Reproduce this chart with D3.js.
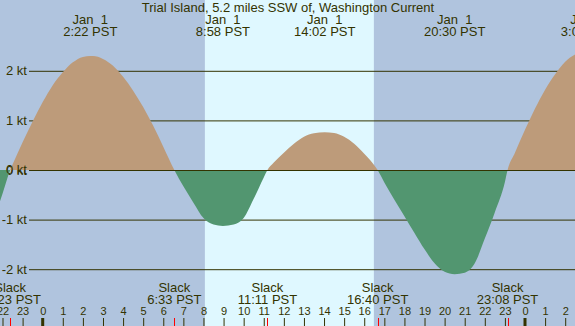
<!DOCTYPE html>
<html>
<head>
<meta charset="utf-8">
<script src="https://cdn.jsdelivr.net/npm/d3@7"></script>
<style>
body { margin: 0; }
text { font-family: "Liberation Sans", Arial, sans-serif; fill: #333300; }
</style>
</head>
<body>
<div id="chart"></div>
<script>
//data
const title = "Trial Island, 5.2 miles SSW of, Washington Current";

// current speed, hours of Jan 1 (PST), knots (+ flood, - ebb)
const hours = [-2.5, -2, -1.617, -1.5, -1, -0.5, 0, 0.5, 1, 1.5, 2, 2.37, 2.5, 3, 3.5, 4, 4.5, 5, 5.5, 6, 6.55,
    7, 7.5, 8, 8.5, 8.967, 9.5, 10, 10.5, 11, 11.183, 11.5, 12, 12.5, 13, 13.5, 14.033, 14.5, 15, 15.5, 16, 16.667,
    17, 17.5, 18, 18.5, 19, 19.5, 20, 20.5, 21, 21.5, 22, 22.5, 23, 23.133, 23.5, 24, 24.5, 25, 25.5, 26, 26.5, 27.133];
const knots = [-1.05, -0.48, 0, 0.11, 0.56, 0.98, 1.37, 1.71, 1.97, 2.17, 2.28, 2.30, 2.30, 2.24, 2.10, 1.88, 1.60, 1.27, 0.89, 0.47, 0,
    -0.33, -0.66, -0.97, -1.10, -1.13, -1.10, -0.97, -0.58, -0.15, 0, 0.15, 0.35, 0.53, 0.67, 0.74, 0.76, 0.745, 0.67, 0.53, 0.33, 0,
    -0.25, -0.60, -0.93, -1.27, -1.60, -1.88, -2.05, -2.10, -2.07, -1.88, -1.38, -0.85, -0.24, 0, 0.35, 0.81, 1.24, 1.62, 1.93, 2.18, 2.33, 2.40];

// max flood / max ebb
const peakHours = [2.367, 8.967, 14.033, 20.5, 27.133];
const peakDates = ["Jan  1", "Jan  1", "Jan  1", "Jan  1", "Jan  2"];
const peakTimes = ["2:22 PST", "8:58 PST", "14:02 PST", "20:30 PST", "3:08 PST"];

// slack water
const slackHours = [-1.617, 6.55, 11.183, 16.667, 23.133];
const slackTimes = ["22:23 PST", "6:33 PST", "11:11 PST", "16:40 PST", "23:08 PST"];

const sunrise = 8.07, sunset = 16.48;
const knotTicks = [-2, -1, 0, 1, 2];
const hourTicks = d3.range(-2, 27);
const midnights = [0, 24];

//setup
const width = 575, height = 326;
const nightColor = "#b0c4de", dayColor = "#dff8ff";
const floodColor = "#bd9b7a", ebbColor = "#529670", ink = "#333300";

const svg = d3.select("#chart").append("svg")
    .attr("width", width)
    .attr("height", height);

const x = d3.scaleLinear().domain([0, 24]).range([42.7, 525]);
const y = d3.scaleLinear().domain([0, 2]).range([170, 70.8]);

// night / day background
svg.append("rect")
    .attr("width", width).attr("height", height)
    .attr("fill", nightColor);
svg.append("rect")
    .attr("x", x(sunrise)).attr("width", x(sunset) - x(sunrise))
    .attr("height", height)
    .attr("fill", dayColor);

// knot axis + grid (under the fill)
const yAxis = d3.axisLeft(y)
    .tickValues(knotTicks)
    .tickSizeInner(-(width - 29))
    .tickSizeOuter(0)
    .tickPadding(2)
    .tickFormat(d => d + " kt");
svg.append("g")
    .attr("transform", "translate(29,0)")
    .attr("color", ink)
    .call(yAxis)
    .call(g => g.select(".domain").remove())
    .call(g => g.selectAll("text").attr("font-size", 13).attr("font-family", null));

// current fill, flood above and ebb below the zero line
const pts = hours.map((h, i) => [h, knots[i]]);
const area = d3.area()
    .x(d => x(d[0]))
    .y0(y(0))
    .y1(d => y(d[1]))
    .curve(d3.curveMonotoneX);

const defs = svg.append("defs");
defs.append("clipPath").attr("id", "above")
    .append("rect").attr("width", width).attr("height", y(0));
defs.append("clipPath").attr("id", "below")
    .append("rect").attr("y", y(0)).attr("width", width).attr("height", height - y(0));

svg.append("path").datum(pts)
    .attr("d", area)
    .attr("fill", floodColor)
    .attr("clip-path", "url(#above)");
svg.append("path").datum(pts)
    .attr("d", area)
    .attr("fill", ebbColor)
    .attr("clip-path", "url(#below)");

// zero line on top
svg.append("line")
    .attr("x1", 29).attr("x2", width)
    .attr("y1", Math.round(y(0)) + 0.5).attr("y2", Math.round(y(0)) + 0.5)
    .attr("stroke", ink);

// repeat the 0 kt label above the fill
svg.append("text")
    .attr("x", 27).attr("y", y(0)).attr("dy", "0.32em")
    .attr("text-anchor", "end").attr("font-size", 13)
    .text("0 kt");

// title
svg.append("text")
    .attr("x", 288).attr("y", 12)
    .attr("text-anchor", "middle").attr("font-size", 13)
    .text(title);

// max current labels
const peaks = svg.append("g").attr("text-anchor", "middle").attr("font-size", 13);
peaks.selectAll(".pdate").data(peakHours).join("text")
    .attr("class", "pdate")
    .attr("xml:space", "preserve")
    .attr("x", d => x(d)).attr("y", 24)
    .text((d, i) => peakDates[i]);
peaks.selectAll(".ptime").data(peakHours).join("text")
    .attr("class", "ptime")
    .attr("x", d => x(d)).attr("y", 36)
    .text((d, i) => peakTimes[i]);

// slack labels
const slacks = svg.append("g").attr("text-anchor", "middle").attr("font-size", 13);
slacks.selectAll(".sname").data(slackHours).join("text")
    .attr("class", "sname")
    .attr("x", d => x(d)).attr("y", 292)
    .text("Slack");
slacks.selectAll(".stime").data(slackHours).join("text")
    .attr("class", "stime")
    .attr("x", d => x(d)).attr("y", 304)
    .text((d, i) => slackTimes[i]);

// hour axis along the bottom
const xAxis = d3.axisTop(x)
    .tickValues(hourTicks)
    .tickSize(8)
    .tickPadding(3)
    .tickFormat(d => (d + 24) % 24);
svg.append("g")
    .attr("transform", "translate(0," + height + ")")
    .attr("color", ink)
    .call(xAxis)
    .call(g => g.select(".domain").remove())
    .call(g => g.selectAll("text").attr("font-size", 11).attr("font-family", null));

// slack ticks in red
svg.selectAll(".slacktick").data(slackHours).join("line")
    .attr("class", "slacktick")
    .attr("x1", d => Math.round(x(d)) + 0.5).attr("x2", d => Math.round(x(d)) + 0.5)
    .attr("y1", height - 8).attr("y2", height)
    .attr("stroke", "red");

// midnight marks
svg.selectAll(".midnight").data(midnights).join("rect")
    .attr("class", "midnight")
    .attr("x", d => x(d) - 1.5).attr("width", 3)
    .attr("y", height - 8).attr("height", 8)
    .attr("fill", ink);
</script>
</body>
</html>
